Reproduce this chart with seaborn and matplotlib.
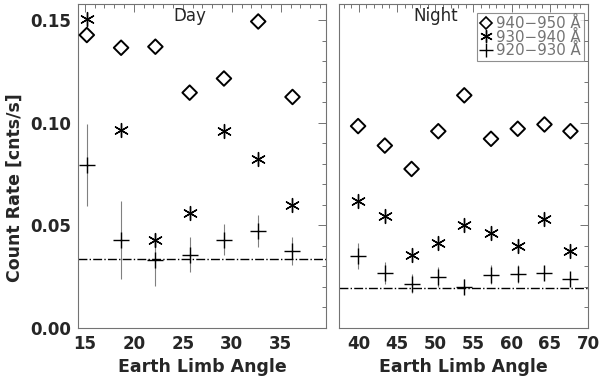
import pandas as pd
import seaborn as sns
import matplotlib.pyplot as plt
import numpy as np
from matplotlib.ticker import MultipleLocator
from matplotlib.lines import Line2D

# Day data (Earth limb angle, count rates)
day_angle = [15.2, 18.7, 22.2, 25.7, 29.2, 32.7, 36.2]
day_940 = [0.1428, 0.1366, 0.1371, 0.1147, 0.1216, 0.1494, 0.1126]
day_930 = [0.1506, 0.0967, 0.0431, 0.0562, 0.0962, 0.0824, 0.0598]
day_920 = [0.0794, 0.0431, 0.0333, 0.0358, 0.0431, 0.0472, 0.0374]
day_920_err = [0.020, 0.019, 0.013, 0.0085, 0.0075, 0.0078, 0.0068]
day_bkg = 0.0337

# Night data
night_angle = [39.9, 43.4, 46.9, 50.4, 53.8, 57.3, 60.8, 64.3, 67.7]
night_940 = [0.0984, 0.0889, 0.0775, 0.0959, 0.1134, 0.0922, 0.0971, 0.0992, 0.0959]
night_930 = [0.0619, 0.0546, 0.0358, 0.0415, 0.0501, 0.0461, 0.0399, 0.0529, 0.0374]
night_920 = [0.0350, 0.0268, 0.0216, 0.0249, 0.0202, 0.0260, 0.0263, 0.0268, 0.0239]
night_920_err = [0.0065, 0.0055, 0.0047, 0.0050, 0.0038, 0.0045, 0.0043, 0.0036, 0.0020]
night_bkg = 0.0195

bands = ['940\u2212950 \u00c5', '930\u2212940 \u00c5', '920\u2212930 \u00c5']
star = (6, 2, 0)

sns.set_style('white')
plt.rcParams['font.family'] = ['DejaVu Sans']

fig = plt.figure(figsize=(6.0, 3.84), dpi=100)
ax1 = fig.add_axes([0.13, 0.146, 0.413, 0.844])
ax2 = fig.add_axes([0.565, 0.146, 0.415, 0.844])

panels = [
    (ax1, day_angle, day_940, day_930, day_920, day_920_err, day_bkg, 'Day', (14.3, 39.6), 0.383),
    (ax2, night_angle, night_940, night_930, night_920, night_920_err, night_bkg, 'Night', (37.4, 70.0), 0.297),
]

for ax, ang, r940, r930, r920, err, bkg, title, xlim, tx in panels:
    df = pd.DataFrame({'angle': ang, 'r940': r940, 'r930': r930, 'r920': r920})
    # error bars on the 920-930 band
    ax.errorbar(ang, r920, yerr=err, fmt='none', ecolor='0.5', elinewidth=0.8, capsize=0, zorder=1)
    sns.scatterplot(data=df, x='angle', y='r940', marker='D', s=55,
                    facecolor='none', edgecolor='black', linewidth=1.4, ax=ax, zorder=3)
    sns.scatterplot(data=df, x='angle', y='r930', marker=star, s=100,
                    color='black', linewidth=1.0, ax=ax, zorder=3)
    sns.scatterplot(data=df, x='angle', y='r920', marker='+', s=130,
                    color='black', linewidth=1.0, ax=ax, zorder=3)
    ax.axhline(bkg, color='black', linestyle='-.', linewidth=1.0, zorder=2)
    ax.set_xlim(*xlim)
    ax.set_ylim(0, 0.158)
    ax.xaxis.set_major_locator(MultipleLocator(5))
    ax.xaxis.set_minor_locator(MultipleLocator(1))
    ax.yaxis.set_major_locator(MultipleLocator(0.05))
    ax.yaxis.set_minor_locator(MultipleLocator(0.01))
    ax.tick_params(which='both', direction='in', top=True, right=True, color='0.45', width=0.7)
    ax.tick_params(which='major', length=6, labelsize=12, pad=5)
    ax.tick_params(which='minor', length=3)
    for sp in ax.spines.values():
        sp.set_color('0.45')
        sp.set_linewidth(0.8)
    ax.set_xlabel('Earth Limb Angle', fontsize=12.5, fontweight='bold', labelpad=4)
    ax.set_ylabel('')
    ax.text(tx, 0.99, title, transform=ax.transAxes, ha='left', va='top', fontsize=12)

ax1.set_ylabel('Count Rate [cnts/s]', fontsize=12.5, fontweight='bold')
ax1.yaxis.set_label_coords(-0.254, 0.432)
ax1.yaxis.label.set_va('center')
ax1.yaxis.set_major_formatter(plt.FuncFormatter(lambda v, p: f'{v:.2f}'))
ax2.set_yticklabels([])
for ax in (ax1, ax2):
    for lab in ax.get_xticklabels() + ax.get_yticklabels():
        lab.set_fontweight('bold')

# legend
handles = [
    Line2D([], [], marker='D', mfc='none', mec='black', ls='none', ms=6, mew=1.2),
    Line2D([], [], marker=star, color='black', ls='none', ms=9, mew=1.0),
    Line2D([], [], marker='+', color='black', ls='none', ms=10, mew=1.0),
]
leg = ax2.legend(handles, bands, loc='upper right', bbox_to_anchor=(1.0, 0.985),
                 fontsize=10.8, handlelength=0.8, handletextpad=0.25, borderpad=0.2,
                 labelspacing=-0.1, frameon=True, fancybox=False, borderaxespad=0.3)
leg.get_frame().set_edgecolor('0.45')
leg.get_frame().set_linewidth(0.8)
for t in leg.get_texts():
    t.set_color('0.45')

fig.savefig('out.png', dpi=100)
